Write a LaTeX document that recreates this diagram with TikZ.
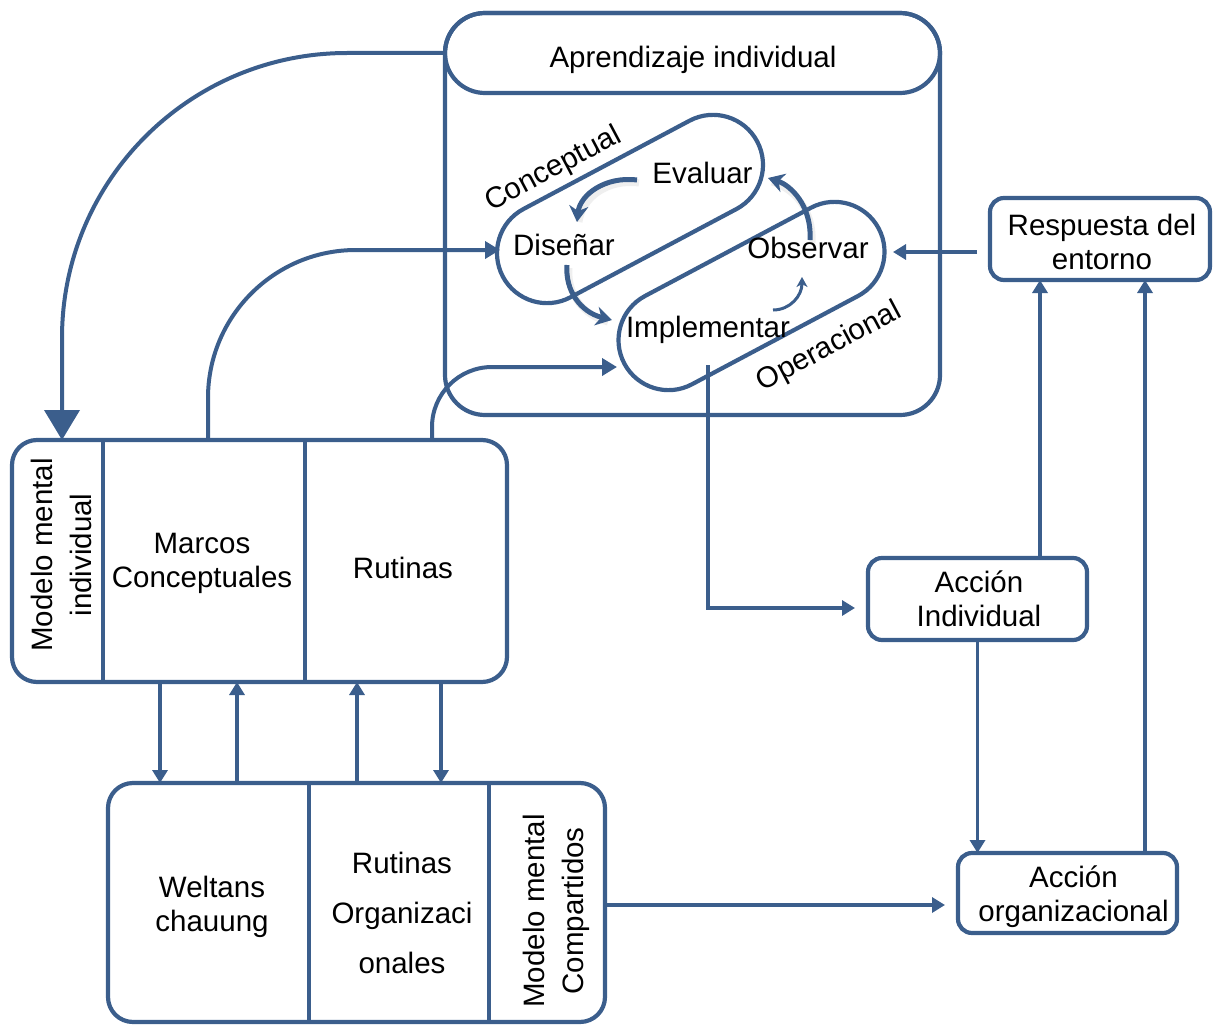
\documentclass[tikz,border=0pt]{standalone}
\usepackage{fontspec}
\setmainfont{Liberation Sans}
\usetikzlibrary{arrows.meta,shapes.misc}
\definecolor{azul}{HTML}{3B5E8C}
\begin{document}
\begin{tikzpicture}[x=1pt,y=-1pt,
  every node/.style={inner sep=0pt, outer sep=0pt},
  txt/.style={font=\fontsize{29.5}{34}\selectfont, align=center, text=black},
  frame/.style={draw=azul, line width=4.2pt},
  box/.style={frame, rounded corners=14pt},
  conn/.style={draw=azul, line width=3.5pt, -{Triangle[length=13pt,width=15pt]}},
  loopar/.style={draw=azul, line width=5pt, -{Stealth[length=16pt,width=19pt,inset=5pt]}},
  shadowline/.style={draw=black!50, line width=7pt, opacity=0.13},
  pill/.style={frame, rounded rectangle, rotate=28, minimum width=288pt, minimum height=100pt},
]
\useasboundingbox (0,0) rectangle (1213,1025);

% ---- Aprendizaje individual ----
\node[frame, rounded corners=40pt, minimum width=495pt, minimum height=402pt] (outer) at (692.5,214) {};
\node[frame, rounded corners=40pt, minimum width=495pt, minimum height=80pt] (hdr) at (692.5,53) {};
\node[txt, anchor=base] (hdrt) at (693,67) {Aprendizaje individual};

\node[pill] (pc) at (630,209) {};
\node[pill] (po) at (751.5,296) {};

\node[txt, anchor=base] (ev) at (702.5,183) {Evaluar};
\node[txt, anchor=base] (di) at (564,255) {Diseñar};
\node[txt, anchor=base] (ob) at (808,258) {Observar};
\node[txt, anchor=base] (im) at (708,337) {Implementar};
\node[txt, anchor=base, rotate=28] (lc) at (557,176) {Conceptual};
\node[txt, anchor=base, rotate=28] (lo) at (833,354) {Operacional};

% loop arrows (with soft shadow)
\draw[shadowline] (639,183) .. controls (607,179) and (582,198) .. (579,222);
\draw[shadowline] (569,268) .. controls (567,293) and (582,315) .. (608,322);
\draw[shadowline] (812,243) .. controls (814,208) and (792,188) .. (772,182);
\draw[loopar] (637,180) .. controls (605,176) and (580,195) .. (577,222);
\draw[loopar] (567,265) .. controls (565,290) and (580,312) .. (612,320);
\draw[loopar] (810,240) .. controls (812,205) and (790,185) .. (768,178);
\draw[draw=azul, line width=3pt, -{Stealth[length=10pt,width=11pt,inset=3pt]}] (773,310) .. controls (790,310) and (802,296) .. (802,277);

% ---- Respuesta / Acciones ----
\node[box, minimum width=220pt, minimum height=82pt] (resp) at (1100,239) {};
\node[txt] (respt) at (1102,241.5) {Respuesta del\\entorno};
\node[box, minimum width=219pt, minimum height=82pt] (aind) at (977.5,599) {};
\node[txt] (aindt) at (979,599) {Acción\\Individual};
\node[box, minimum width=219pt, minimum height=80pt] (aorg) at (1067.5,893) {};
\node[txt] (aorgt) at (1073.5,897) {Acción\\organizacional};

% ---- Modelo mental individual ----
\node[frame, rounded corners=25pt, minimum width=495pt, minimum height=242pt] (mmi) at (259.5,561) {};
\draw[frame] ([xshift=91pt]mmi.north west) -- ([xshift=91pt]mmi.south west);
\draw[frame] ([xshift=293pt]mmi.north west) -- ([xshift=293pt]mmi.south west);
\node[txt, rotate=90, font=\fontsize{29.5}{39}\selectfont] (mmit) at (61,555) {Modelo mental\\individual};
\node[txt] (marc) at (202,563) {Marcos\\Conceptuales};
\node[txt] (rut) at (403,568) {Rutinas};

% ---- Modelo mental compartidos ----
\node[frame, rounded corners=25pt, minimum width=497pt, minimum height=239pt] (mmo) at (356.5,902.5) {};
\draw[frame] ([xshift=201pt]mmo.north west) -- ([xshift=201pt]mmo.south west);
\draw[frame] ([xshift=381pt]mmo.north west) -- ([xshift=381pt]mmo.south west);
\node[txt] (welt) at (212,907) {Weltans\\chauung};
\node[txt, font=\fontsize{29.5}{50}\selectfont] (rorg) at (402,913) {Rutinas\\Organizaci\\onales};
\node[txt, rotate=90, font=\fontsize{29.5}{39}\selectfont] (mmct) at (556.5,911) {Modelo mental\\Compartidos};

% ---- connectors ----
\coordinate (dsin) at (500,250);
\coordinate (impin) at (617,367);
\coordinate (imout) at (708,365);
\coordinate (obin) at (893,252);

\draw[conn, line width=4pt, -{Triangle[length=30pt,width=35pt]}, rounded corners=285pt]
  (hdr.west) -| ([xshift=50pt]mmi.north west);
\draw[conn, line width=4pt, -{Triangle[length=15pt,width=17pt]}, rounded corners=148pt]
  ([xshift=196pt]mmi.north west) |- (dsin);
\draw[conn, line width=4pt, -{Triangle[length=15pt,width=17pt]}, rounded corners=60pt]
  ([xshift=420pt]mmi.north west) |- (impin);
\draw[conn, shorten >=13pt] (imout) |- ([yshift=-9pt]aind.west);
\draw[conn, shorten <=13pt] ([yshift=-13pt]resp.west) -- (obin);
\draw[conn] ([xshift=172pt]aind.north west) -- ([xshift=50pt]resp.south west);
\draw[conn] ([xshift=187pt]aorg.north west) -- ([xshift=155pt]resp.south west);
\draw[conn] (aind.south) -- (aind.south |- aorg.north);
\draw[conn, shorten >=13pt] ([yshift=-2.5pt]mmo.east) -- ([yshift=-2.5pt]mmo.east -| aorg.west);

\draw[conn] ([xshift=148pt]mmi.south west) -- ([xshift=52pt]mmo.north west);
\draw[conn] ([xshift=129pt]mmo.north west) -- ([xshift=225pt]mmi.south west);
\draw[conn] ([xshift=249pt]mmo.north west) -- ([xshift=345pt]mmi.south west);
\draw[conn] ([xshift=429pt]mmi.south west) -- ([xshift=333pt]mmo.north west);
\end{tikzpicture}
\end{document}
